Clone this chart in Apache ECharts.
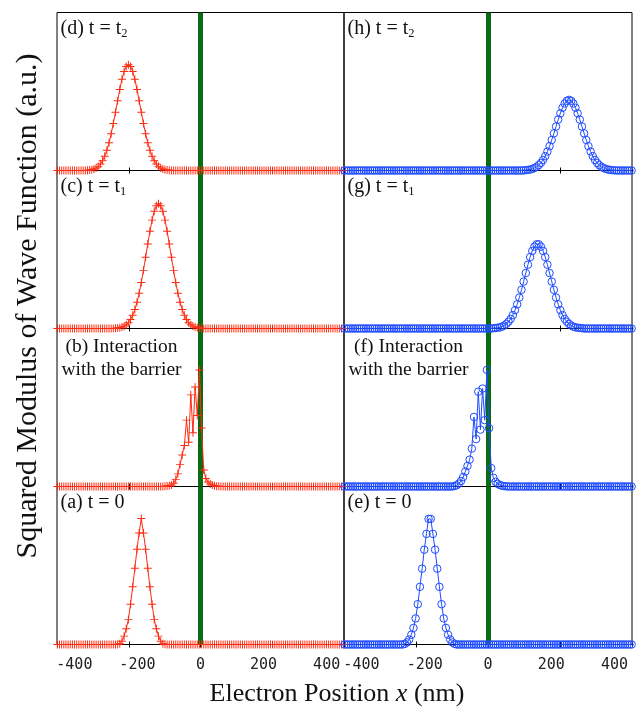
<!DOCTYPE html>
<html><head><meta charset="utf-8">
<script src="https://cdn.jsdelivr.net/npm/echarts@6/dist/echarts.min.js"></script>
<style>html,body{margin:0;padding:0;background:#fff}#c{width:640px;height:708px}</style>
</head><body><div id="c"></div>
<script>
// sample positions (nm)
const xGrid = [
-399,-393,-387,-381,-375,-369,-363,-357,-351,-345,
-339,-333,-327,-321,-315,-309,-303,-297,-291,-285,
-279,-273,-267,-261,-255,-249,-243,-237,-231,-225,
-219,-213,-207,-201,-195,-189,-183,-177,-171,-165,
-159,-153,-147,-141,-135,-129,-123,-117,-111,-105,
-99,-93,-87,-81,-75,-69,-63,-57,-51,-45,
-39,-33,-27,-21,-15,-9,-3,3,9,15,
21,27,33,39,45,51,57,63,69,75,
81,87,93,99,105,111,117,123,129,135,
141,147,153,159,165,171,177,183,189,195,
201,207,213,219,225,231,237,243,249,255,
261,267,273,279,285,291,297,303,309,315,
321,327,333,339,345,351,357,363,369,375,
381,387,393,399];
const xTickLabels = [-400,-200,0,200,400];

// left column (red +)
const yD = [
0,0,0,0,0,0,0,0,0,0,
0,0,0,0,.002,.003,.005,.009,.016,.026,
.041,.062,.09,.128,.175,.232,.298,.369,.442,.513,
.577,.626,.658,.669,.658,.626,.577,.513,.442,.369,
.298,.232,.175,.128,.09,.062,.041,.026,.016,.009,
.005,.003,.002,0,0,0,0,0,0,0,
0,0,0,0,0,0,0,0,0,0,
0,0,0,0,0,0,0,0,0,0,
0,0,0,0,0,0,0,0,0,0,
0,0,0,0,0,0,0,0,0,0,
0,0,0,0,0,0,0,0,0,0,
0,0,0,0,0,0,0,0,0,0,
0,0,0,0,0,0,0,0,0,0,
0,0,0,0];
const yC = [
0,0,0,0,0,0,0,0,0,0,
0,0,0,0,0,0,0,0,0,0,
0,0,0,0,0,0,0,.002,.003,.005,
.009,.015,.024,.037,.057,.084,.12,.166,.223,.291,
.368,.451,.535,.615,.686,.742,.777,.789,.777,.742,
.686,.615,.535,.451,.368,.291,.223,.166,.12,.084,
.057,.037,.024,.015,.009,.005,.003,.002,0,0,
0,0,0,0,0,0,0,0,0,0,
0,0,0,0,0,0,0,0,0,0,
0,0,0,0,0,0,0,0,0,0,
0,0,0,0,0,0,0,0,0,0,
0,0,0,0,0,0,0,0,0,0,
0,0,0,0,0,0,0,0,0,0,
0,0,0,0];
const yB = [
0,0,0,0,0,0,0,0,0,0,
0,0,0,0,0,0,0,0,0,0,
0,0,0,0,0,0,0,0,0,0,
0,0,0,0,0,0,0,0,0,0,
0,0,0,0,0,0,0,0,0,0,
.001,.003,.005,.01,.02,.045,.08,.14,.2,.26,
.42,.28,.58,.34,.63,.45,.738,.37,.105,.05,
.028,.016,.009,.005,.002,.001,0,0,0,0,
0,0,0,0,0,0,0,0,0,0,
0,0,0,0,0,0,0,0,0,0,
0,0,0,0,0,0,0,0,0,0,
0,0,0,0,0,0,0,0,0,0,
0,0,0,0,0,0,0,0,0,0,
0,0,0,0];
const yA = [
0,0,0,0,0,0,0,0,0,0,
0,0,0,0,0,0,0,0,0,0,
0,0,0,0,0,0,0,0,.001,.005,
.021,.053,.1,.159,.255,.366,.482,.603,.706,.797,
.706,.603,.482,.366,.255,.159,.1,.053,.021,.005,
.001,0,0,0,0,0,0,0,0,0,
0,0,0,0,0,0,0,0,0,0,
0,0,0,0,0,0,0,0,0,0,
0,0,0,0,0,0,0,0,0,0,
0,0,0,0,0,0,0,0,0,0,
0,0,0,0,0,0,0,0,0,0,
0,0,0,0,0,0,0,0,0,0,
0,0,0,0,0,0,0,0,0,0,
0,0,0,0];

// right column (blue o)
const yH = [
0,0,0,0,0,0,0,0,0,0,
0,0,0,0,0,0,0,0,0,0,
0,0,0,0,0,0,0,0,0,0,
0,0,0,0,0,0,0,0,0,0,
0,0,0,0,0,0,0,0,0,0,
0,0,0,0,0,0,0,0,0,0,
0,0,0,0,0,0,0,0,0,0,
0,0,0,0,0,0,0,0,0,0,
0,0,0,.001,.002,.004,.006,.01,.016,.023,
.034,.048,.067,.091,.12,.154,.193,.235,.278,.322,
.362,.397,.424,.441,.447,.441,.424,.397,.362,.322,
.278,.235,.193,.154,.12,.091,.067,.048,.034,.023,
.016,.01,.006,.004,.002,.001,0,0,0,0,
0,0,0,0];
const yG = [
0,0,0,0,0,0,0,0,0,0,
0,0,0,0,0,0,0,0,0,0,
0,0,0,0,0,0,0,0,0,0,
0,0,0,0,0,0,0,0,0,0,
0,0,0,0,0,0,0,0,0,0,
0,0,0,0,0,0,0,0,0,0,
0,0,0,0,0,0,0,0,0,.002,
.003,.005,.007,.012,.019,.029,.043,.061,.085,.116,
.153,.196,.245,.297,.351,.404,.452,.491,.518,.533,
.533,.518,.491,.452,.404,.351,.297,.245,.196,.153,
.116,.085,.061,.043,.029,.019,.012,.007,.005,.003,
.002,0,0,0,0,0,0,0,0,0,
0,0,0,0,0,0,0,0,0,0,
0,0,0,0];
const yF = [
0,0,0,0,0,0,0,0,0,0,
0,0,0,0,0,0,0,0,0,0,
0,0,0,0,0,0,0,0,0,0,
0,0,0,0,0,0,0,0,0,0,
0,0,0,0,0,0,0,0,0,0,
0,.003,.008,.018,.035,.06,.095,.13,.17,.24,
.44,.30,.60,.36,.62,.42,.738,.369,.116,.055,
.03,.017,.009,.005,.002,.001,0,0,0,0,
0,0,0,0,0,0,0,0,0,0,
0,0,0,0,0,0,0,0,0,0,
0,0,0,0,0,0,0,0,0,0,
0,0,0,0,0,0,0,0,0,0,
0,0,0,0,0,0,0,0,0,0,
0,0,0,0];
const yE = [
0,0,0,0,0,0,0,0,0,0,
0,0,0,0,0,0,0,0,0,0,
0,0,0,0,0,0,0,0,.004,.013,
.032,.062,.105,.165,.255,.365,.48,.6,.7,.795,
.795,.7,.6,.48,.365,.255,.165,.105,.062,.032,
.013,.004,0,0,0,0,0,0,0,0,
0,0,0,0,0,0,0,0,0,0,
0,0,0,0,0,0,0,0,0,0,
0,0,0,0,0,0,0,0,0,0,
0,0,0,0,0,0,0,0,0,0,
0,0,0,0,0,0,0,0,0,0,
0,0,0,0,0,0,0,0,0,0,
0,0,0,0,0,0,0,0,0,0,
0,0,0,0];

const leftSeries = [yD, yC, yB, yA];
const rightSeries = [yH, yG, yF, yE];
const leftLabels = ['{n|(d) t = t}{s|2}', '{n|(c) t = t}{s|1}', '(b) Interaction\nwith the barrier', '{n|(a) t = 0}'];
const rightLabels = ['{n|(h) t = t}{s|2}', '{n|(g) t = t}{s|1}', '(f) Interaction\nwith the barrier', '{n|(e) t = 0}'];
const xTitle = '{n|Electron Position }{i|x}{n| (nm)}';
const yTitle = 'Squared Modulus of Wave Function (a.u.)';

// layout
const TOP0 = 12.5, H = 158;
const COLS = [{left: 57, width: 287}, {left: 344, width: 288}];
const RED = '#ff2a10', BLUE = '#1f4cff', GREEN = '#0b6b12';
const SERIF = '"Liberation Serif", "DejaVu Serif", serif';
const PLUS = 'path://M44,0H56V44H100V56H56V100H44V56H0V44H44Z';

const grid = [], xAxis = [], yAxis = [], series = [], graphic = [];
let g = 0;
for (let c = 0; c < 2; c++) {
  for (let r = 0; r < 4; r++) {
    const top = TOP0 + H * r;
    grid.push({left: COLS[c].left, top: top, width: COLS[c].width, height: H,
      show: true, borderColor: '#000', borderWidth: 1, backgroundColor: 'transparent'});
    const base = {gridIndex: g, type: 'value', min: -400, max: 400, interval: 200,
      splitLine: {show: false}, axisLabel: {show: false},
      axisTick: {show: true, inside: true, length: 3, lineStyle: {color: '#000', width: 1}}};
    const mainIdx = xAxis.length;
    xAxis.push(Object.assign({}, base, {position: 'bottom',
      axisLine: {show: true, onZero: false, lineStyle: {color: '#000', width: 1}}}));
    xAxis.push(Object.assign({}, base, {position: 'top', axisLine: {show: false}}));
    if (r === 3) {
      xAxis.push({gridIndex: g, type: 'value', min: -455, max: 455, position: 'bottom',
        axisLine: {show: false}, axisTick: {show: false}, splitLine: {show: false},
        axisLabel: {show: true, customValues: xTickLabels, margin: 13,
          fontFamily: '"DejaVu Sans Mono", monospace', fontSize: 15, color: '#222'}});
    }
    yAxis.push({gridIndex: g, type: 'value', min: 0, max: 1, show: false});
    const ys = c === 0 ? leftSeries[r] : rightSeries[r];
    const isRed = c === 0;
    series.push({
      type: 'line', xAxisIndex: mainIdx, yAxisIndex: g, z: 3,
      data: xGrid.map((x, i) => [x, ys[i]]),
      symbol: isRed ? PLUS : 'circle',
      symbolSize: isRed ? 8 : 7.5,
      showAllSymbol: true, clip: false,
      lineStyle: {color: isRed ? RED : BLUE, width: 1},
      itemStyle: isRed ? {color: RED, borderWidth: 0}
                       : {color: 'transparent', borderColor: BLUE, borderWidth: 1},
      emphasis: {disabled: true},
      markLine: {silent: true, z: 1, symbol: ['none', 'none'], animation: false,
        label: {show: false}, emphasis: {disabled: true},
        lineStyle: {color: GREEN, width: 5, type: 'solid'},
        data: [{xAxis: 0}]}
    });
    const lbl = c === 0 ? leftLabels[r] : rightLabels[r];
    if (r === 2) {
      graphic.push({type: 'text', x: COLS[c].left + 64.5, y: top + 6.5, z: 20,
        style: {text: lbl, font: '19.5px ' + SERIF, fill: '#111', lineHeight: 23,
          align: 'center', textAlign: 'center', verticalAlign: 'top', textVerticalAlign: 'top'}});
    } else {
      graphic.push({type: 'text', x: COLS[c].left + 3.5, y: top + 16.5, z: 20,
        style: {text: lbl, fill: '#111', align: 'left', textAlign: 'left',
          verticalAlign: 'middle', textVerticalAlign: 'middle',
          rich: {n: {fontSize: 20, fontFamily: SERIF, lineHeight: 22, fill: '#111', color: '#111'},
                 s: {fontSize: 12.5, fontFamily: SERIF, lineHeight: 12, verticalAlign: 'bottom', fill: '#111', color: '#111'}}}});
    }
    g++;
  }
}
graphic.push({type: 'text', x: 337, y: 694, z: 20,
  style: {text: xTitle, align: 'center', textAlign: 'center', verticalAlign: 'middle', textVerticalAlign: 'middle',
    rich: {n: {fontSize: 26, fontFamily: SERIF, fill: '#111', color: '#111'},
           i: {fontSize: 26, fontFamily: SERIF, fontStyle: 'italic', fill: '#111', color: '#111'}}}});
graphic.push({type: 'text', x: 28, y: 306, rotation: Math.PI / 2, z: 20,
  style: {text: yTitle, font: '30px ' + SERIF, fill: '#111', align: 'center', textAlign: 'center',
    verticalAlign: 'middle', textVerticalAlign: 'middle'}});

const chart = echarts.init(document.getElementById('c'), null, {renderer: 'canvas'});
chart.setOption({animation: false, backgroundColor: '#fff', grid, xAxis, yAxis, series, graphic});
</script></body></html>
